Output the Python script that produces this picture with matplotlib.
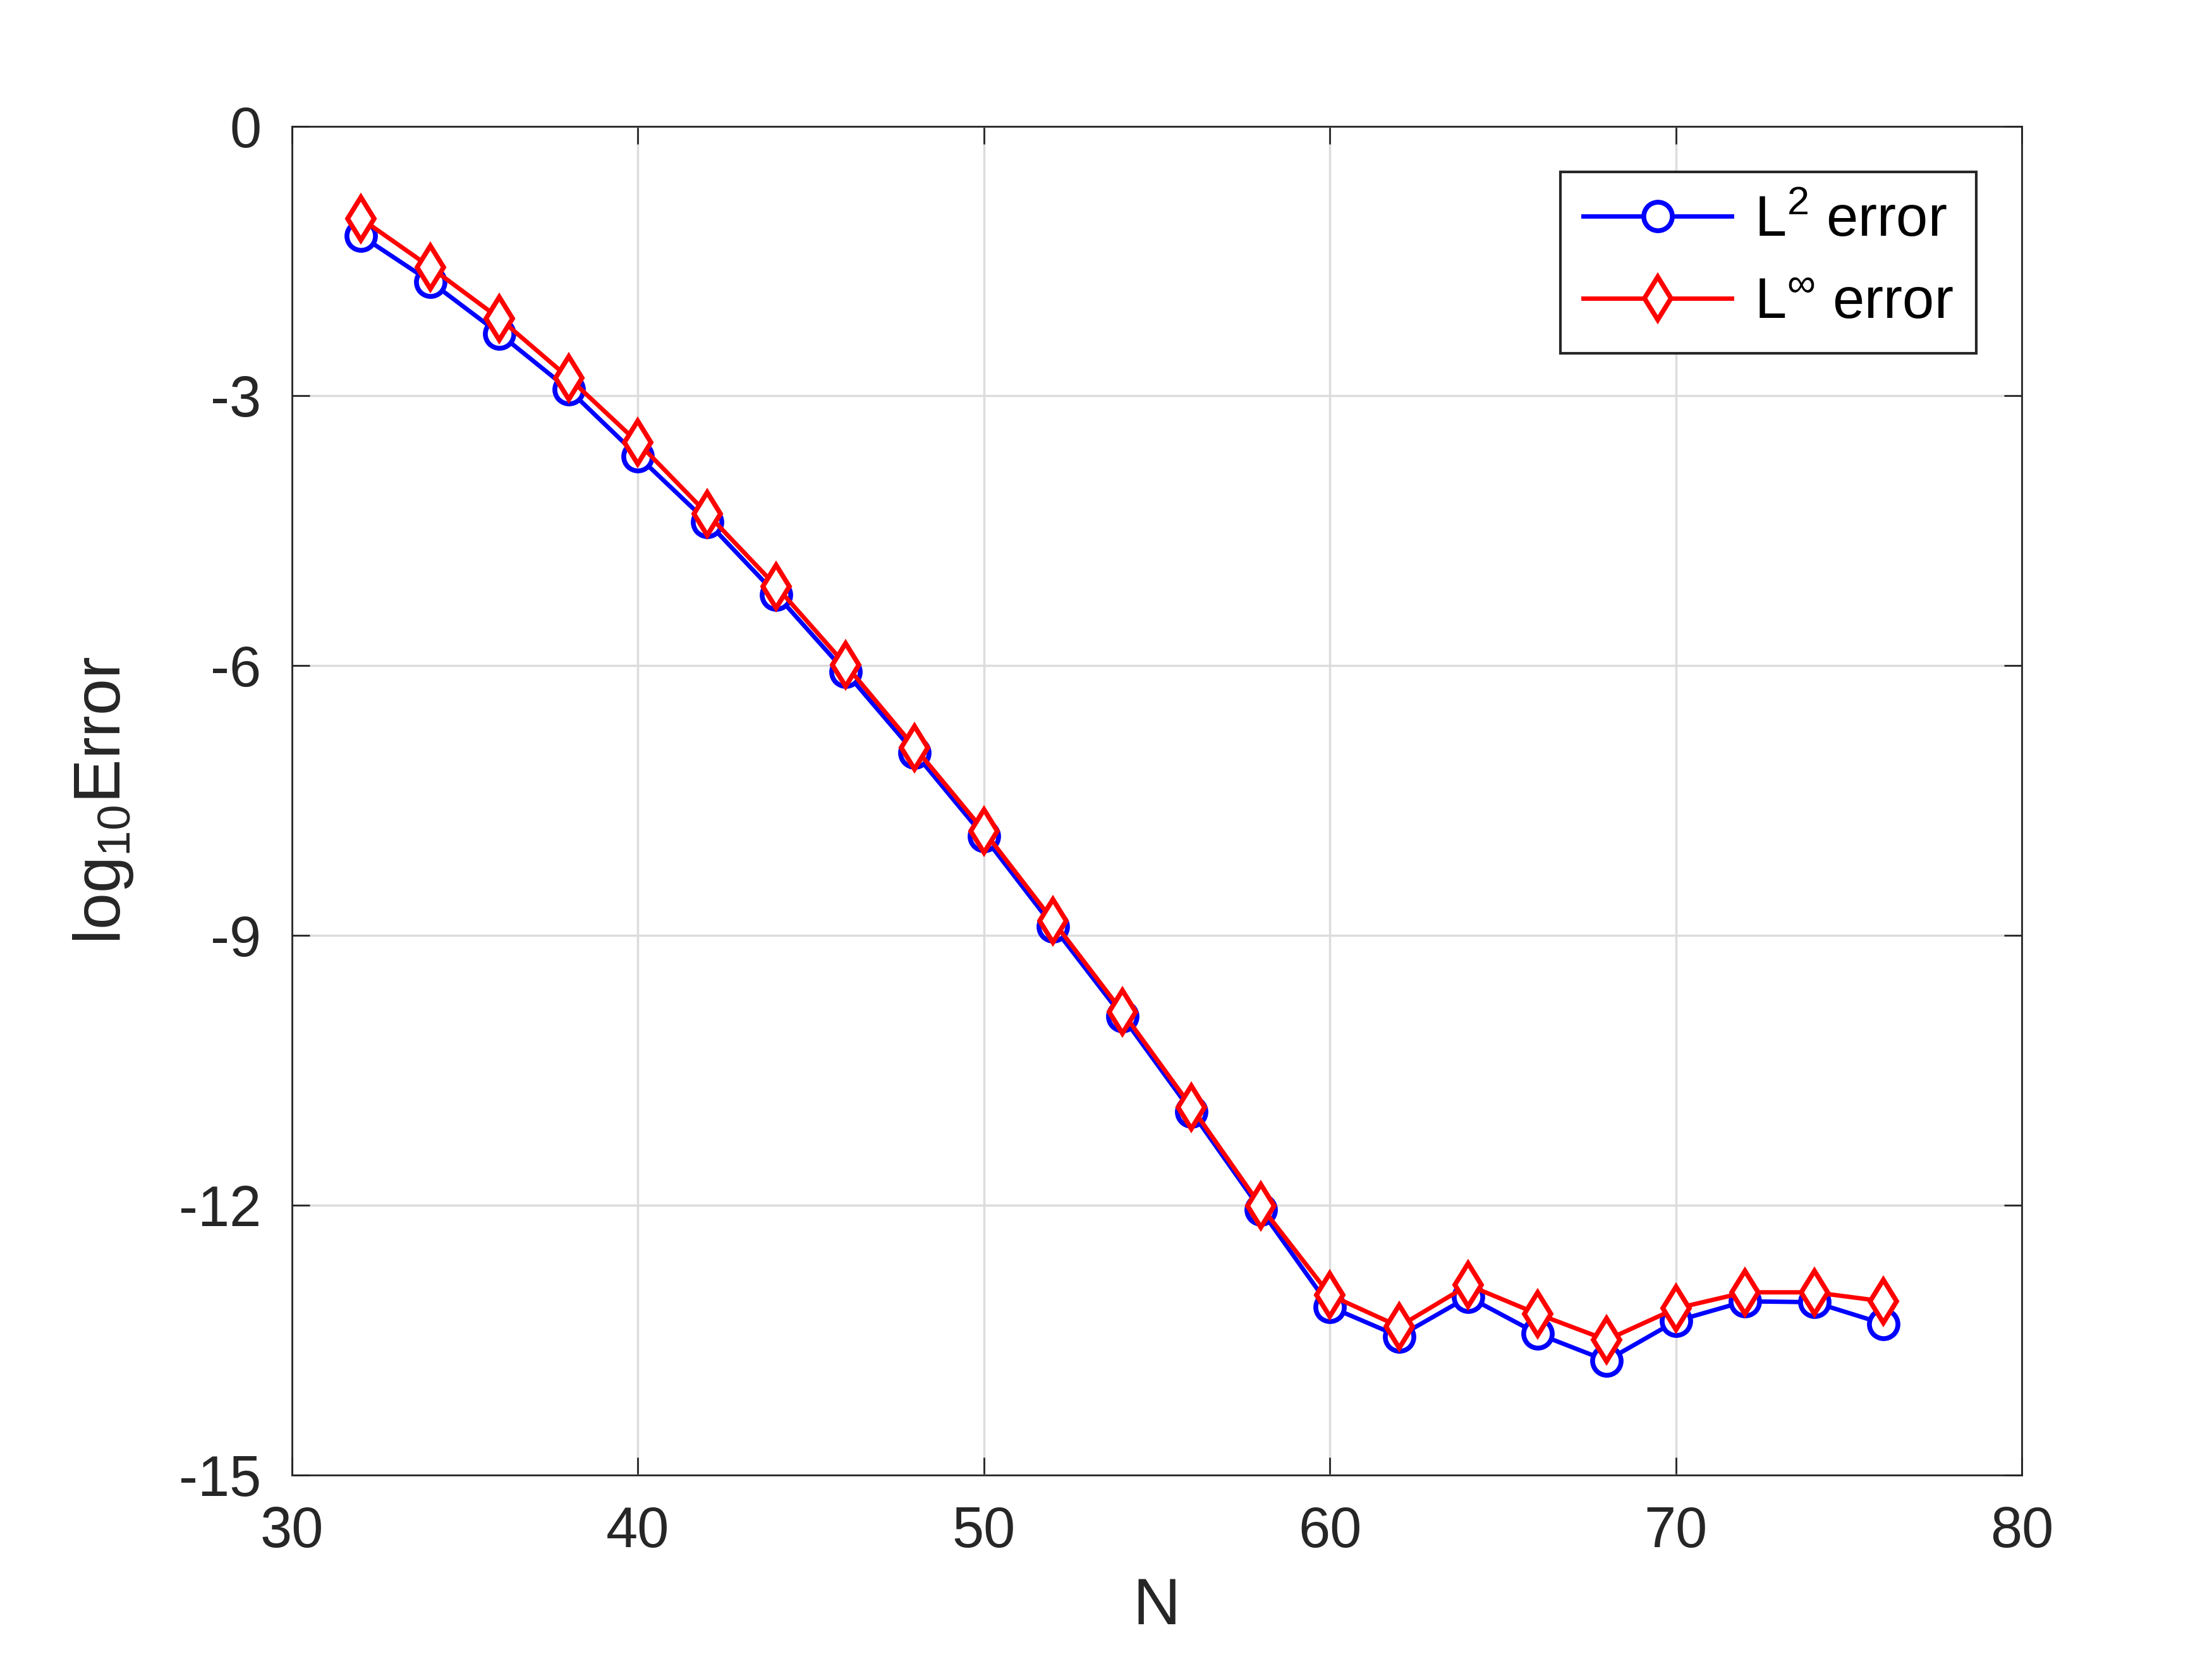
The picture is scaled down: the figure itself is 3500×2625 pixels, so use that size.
import numpy as np
import matplotlib.pyplot as plt

N = [32, 34, 36, 38, 40, 42, 44, 46, 48, 50, 52, 54, 56, 58, 60, 62, 64, 66, 68, 70, 72, 74, 76]
err_l2 = [-1.22, -1.73, -2.31, -2.93, -3.67, -4.40, -5.21, -6.07, -6.97, -7.90, -8.90, -9.90,
          -10.96, -12.05, -13.13, -13.46, -13.02, -13.43, -13.73, -13.29, -13.07, -13.08, -13.32]
err_inf = [-1.03, -1.57, -2.14, -2.80, -3.52, -4.31, -5.12, -5.99, -6.91, -7.84, -8.84, -9.85,
           -10.91, -12.01, -13.00, -13.35, -12.89, -13.21, -13.50, -13.15, -12.97, -12.97, -13.07]

plt.rcParams['font.family'] = ['Liberation Sans', 'DejaVu Sans']
plt.rcParams['axes.unicode_minus'] = False
plt.rcParams['mathtext.fontset'] = 'custom'
plt.rcParams['mathtext.rm'] = 'Liberation Sans'
plt.rcParams['mathtext.it'] = 'Liberation Sans'

fig = plt.figure(figsize=(14, 10.5), dpi=250)
ax = fig.add_axes([0.132, 0.111, 0.782, 0.813])

ax.plot(N, err_l2, '-o', color='blue', lw=2, ms=13, mfc='white', mew=2.2, label=r'L$^2$ error')
ax.plot(N, err_inf, '-d', color='red', lw=2, ms=14, mfc='white', mew=2.2, label=r'L$^{\infty}$ error')

ax.set_xlim(30, 80)
ax.set_ylim(-15, 0)
ax.set_xticks([30, 40, 50, 60, 70, 80])
ax.set_yticks([-15, -12, -9, -6, -3, 0])
ax.tick_params(labelsize=26, direction='in', length=8, pad=14, top=True, right=True,
               color='#262626', labelcolor='#262626')
ax.grid(True, color='#dcdcdc', lw=1)
for s in ax.spines.values():
    s.set_color('#262626')
ax.set_xlabel('N', fontsize=30, color='#262626', labelpad=8)
ax.set_ylabel(r'log$_{10}$Error', fontsize=30, color='#262626', labelpad=20)

leg = ax.legend(loc='upper right', fontsize=26, fancybox=False, edgecolor='#262626',
                handlelength=2.6, handletextpad=0.4, borderaxespad=0.8, borderpad=0.4,
                framealpha=1)
leg.get_frame().set_linewidth(1.2)

fig.savefig('out.png')
